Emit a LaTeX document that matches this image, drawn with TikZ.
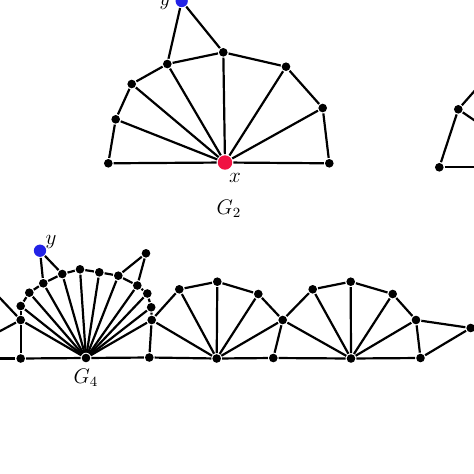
\documentclass[tikz,border=0pt]{standalone}
\definecolor{xred}{RGB}{240,18,66}
\definecolor{yblue}{RGB}{34,34,230}
\begin{document}
\begin{tikzpicture}[x=0.02cm, y=-0.02cm, line width=1.25pt,
    dot/.style={circle, fill=black, inner sep=0pt, minimum size=4.9pt},
    xdot/.style={dot, fill=xred, minimum size=8.2pt},
    ydot/.style={dot, fill=yblue, minimum size=7pt},
    lab/.style={font=\fontsize{11.5}{13}\selectfont, inner sep=0pt}]
\useasboundingbox (0,0) rectangle (474,474);
\clip (0,0) rectangle (474,474);
% G_2
\node[ydot] (y2) at (181.7,1) {};
\node[dot] (a) at (223.3,52.3) {};
\node[dot] (b) at (167.3,64) {};
\node[dot] (c) at (131.7,84) {};
\node[dot] (d) at (115.7,119.3) {};
\node[dot] (e) at (108.3,163.3) {};
\node[xdot] (x) at (225,162.5) {};
\node[dot] (f) at (286,66.7) {};
\node[dot] (g) at (322.7,108) {};
\node[dot] (h) at (329.3,163.3) {};
\foreach \u/\v in {y2/b, y2/a, e/d, d/c, c/b, b/a, a/f, f/g, g/h, e/x, x/h}
    \draw (\u)--(\v);
\foreach \v in {d,c,b,a,f,g}
    \draw (x)--(\v);
\node[lab] (ly2) at (165,3) {$y$};
\node[lab] (lx) at (235,178) {$x$};
\node[lab] (lG2) at (229,209) {$G_2$};
% G_3, only its left end
\node[dot] (k1) at (458.3,109.3) {};
\node[dot] (k2) at (439.3,167.3) {};
\coordinate (o1) at (490,73.4);
\coordinate (o2) at (490,131);
\coordinate (o3) at (490,167.3);
\foreach \u/\v in {k2/k1, k1/o1, k1/o2, k2/o3}
    \draw (\u)--(\v);
% G_4
\node[ydot] (y4) at (40,250.7) {};
\node[dot] (top4) at (146,253.3) {};
\node[dot] (n6) at (20.7,320) {};
\node[dot] (n5) at (20.7,306) {};
\node[dot] (n4) at (29.3,292.7) {};
\node[dot] (n1) at (43.3,283.3) {};
\node[dot] (n2) at (62.3,274) {};
\node[dot] (n3) at (80,269.3) {};
\node[dot] (m1) at (99.3,272.3) {};
\node[dot] (m2) at (118.3,275.7) {};
\node[dot] (m3) at (137.3,285.5) {};
\node[dot] (m4) at (147.3,293.5) {};
\node[dot] (m5) at (151.2,307.3) {};
\node[dot] (m6) at (151.7,320) {};
\node[dot] (bl) at (20.7,358.5) {};
\node[dot] (c4) at (86,358) {};
\node[dot] (br) at (149.3,357.5) {};
\node[dot] (p1) at (179.3,289.3) {};
\node[dot] (p2) at (217.3,281.7) {};
\node[dot] (p3) at (258.3,294) {};
\node[dot] (q) at (216.7,358.5) {};
\node[dot] (r) at (282.7,320) {};
\node[dot] (s) at (273.3,358) {};
\node[dot] (p4) at (312.7,289.3) {};
\node[dot] (p5) at (350.7,281.7) {};
\node[dot] (p6) at (392.7,294) {};
\node[dot] (t) at (351,358.5) {};
\node[dot] (u) at (416,320) {};
\node[dot] (v) at (420.5,358) {};
\node[dot] (w) at (470.7,328) {};
\coordinate (o4) at (-10,358.5);
\coordinate (o5) at (-10,287.5);
\coordinate (o6) at (-10,336.5);
\foreach \u/\v in {y4/n1, y4/n2, top4/m2, top4/m3, n6/n5, n5/n4, n4/n1, n1/n2,
    n2/n3, n3/m1, m1/m2, m2/m3, m3/m4, m4/m5, m5/m6, n6/bl, m6/br,
    o4/bl, bl/c4, c4/br, br/q, q/s, s/t, t/v, n6/o5, n6/o6,
    m6/p1, m6/q, p1/p2, p2/p3, p3/r, r/s, r/p4, p4/p5, p5/p6, p6/u,
    u/v, u/w, v/w}
    \draw (\u)--(\v);
\foreach \v in {n6,n5,n4,n1,n2,n3,m1,m2,m3,m4,m5,m6}
    \draw (c4)--(\v);
\foreach \v in {p1,p2,p3,r}
    \draw (q)--(\v);
\foreach \v in {r,p4,p5,p6,u}
    \draw (t)--(\v);
\node[lab] (ly4) at (51,242) {$y$};
\node[lab] (lG4) at (86,378) {$G_4$};
\end{tikzpicture}
\end{document}
